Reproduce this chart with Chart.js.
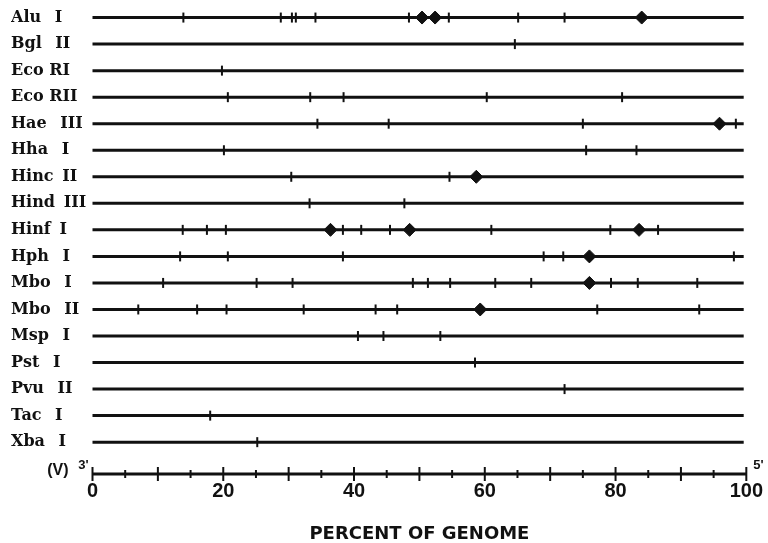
<!DOCTYPE html>
<html>
<head>
<meta charset="utf-8">
<script src="https://cdn.jsdelivr.net/npm/chart.js@4/dist/chart.umd.min.js"></script>
<style>
  html, body { margin: 0; padding: 0; background: #ffffff; }
  #wrap { width: 768px; height: 543px; }
</style>
</head>
<body>
<div id="wrap"><canvas id="c" width="768" height="543"></canvas></div>
<script>
// ---- Data (percent of genome) ----
const enzymes = ['Alu I', 'Bgl II', 'Eco RI', 'Eco RII', 'Hae III', 'Hha I', 'Hinc II', 'Hind III',
                 'Hinf I', 'Hph I', 'Mbo I', 'Mbo II', 'Msp I', 'Pst I', 'Pvu II', 'Tac I', 'Xba I'];

// cleavage sites (small ticks)
const aluI    = [13.9, 28.8, 30.5, 31.1, 34.1, 48.4, 54.5, 65.1, 72.2];
const bglII   = [64.6];
const ecoRI   = [19.8];
const ecoRII  = [20.7, 33.3, 38.4, 60.3, 81.0];
const haeIII  = [34.4, 45.3, 75.0, 98.4];
const hhaI    = [20.1, 75.5, 83.2];
const hincII  = [30.4, 54.6];
const hindIII = [33.2, 47.7];
const hinfI   = [13.8, 17.5, 20.4, 38.3, 41.1, 45.5, 61.0, 79.2, 86.5];
const hphI    = [13.4, 20.7, 38.3, 69.0, 72.0, 98.1];
const mboI    = [10.8, 25.1, 30.6, 49.0, 51.3, 54.7, 61.6, 67.1, 79.3, 83.4, 92.5];
const mboII   = [7.0, 16.0, 20.5, 32.3, 43.3, 46.6, 77.2, 92.8];
const mspI    = [40.6, 44.5, 53.2];
const pstI    = [58.5];
const pvuII   = [72.2];
const tacI    = [18.0];
const xbaI    = [25.2];

// diamond-marked sites
const aluIMajor   = [50.4, 52.4, 84.0];
const haeIIIMajor = [95.9];
const hincIIMajor = [58.7];
const hinfIMajor  = [36.4, 48.5, 83.6];
const hphIMajor   = [76.0];
const mboIMajor   = [76.0];
const mboIIMajor  = [59.3];

// genome line extent and axis ticks
const lineExtent = [0, 99.6];
const axisMajorTicks = [0, 10, 20, 30, 40, 50, 60, 70, 80, 90, 100];
const axisMinorTicks = [5, 15, 25, 35, 45, 55, 65, 75, 85, 95];
const axisLabels = [0, 20, 40, 60, 80, 100];
const axisRow = 17.2;

// ---- build tables ----
const siteTable = [aluI, bglII, ecoRI, ecoRII, haeIII, hhaI, hincII, hindIII, hinfI, hphI, mboI, mboII, mspI, pstI, pvuII, tacI, xbaI];
const majorTable = {0: aluIMajor, 4: haeIIIMajor, 6: hincIIMajor, 8: hinfIMajor, 9: hphIMajor, 10: mboIMajor, 11: mboIIMajor};

const datasets = [];
enzymes.forEach((name, i) => {
  datasets.push({
    type: 'line', label: name,
    data: lineExtent.map(x => ({x: x, y: i})),
    borderColor: '#111', borderWidth: 3, pointRadius: 0, showLine: true, clip: false
  });
});
const tickPts = [];
siteTable.forEach((arr, i) => arr.forEach(x => tickPts.push({x: x, y: i})));
datasets.push({
  type: 'scatter', label: 'sites', data: tickPts,
  pointStyle: 'line', rotation: 90, pointRadius: 5, borderWidth: 2,
  borderColor: '#111', backgroundColor: '#111', clip: false
});
const majorPts = [];
Object.keys(majorTable).forEach(k => majorTable[k].forEach(x => majorPts.push({x: x, y: +k})));
datasets.push({
  type: 'scatter', label: 'major sites', data: majorPts,
  pointStyle: 'rectRot', pointRadius: 6.5, borderWidth: 1,
  borderColor: '#111', backgroundColor: '#111', clip: false
});
// bottom axis (V)
datasets.push({
  type: 'line', label: 'axis',
  data: [{x: 0, y: axisRow}, {x: 100, y: axisRow}],
  borderColor: '#111', borderWidth: 3, pointRadius: 0, showLine: true, clip: false
});
datasets.push({
  type: 'scatter', label: 'axis major', data: axisMajorTicks.map(x => ({x: x, y: axisRow})),
  pointStyle: 'line', rotation: 90, pointRadius: 7, borderWidth: 2, borderColor: '#111', clip: false
});
datasets.push({
  type: 'scatter', label: 'axis minor', data: axisMinorTicks.map(x => ({x: x, y: axisRow})),
  pointStyle: 'line', rotation: 90, pointRadius: 4, borderWidth: 2, borderColor: '#111', clip: false
});

const endLabels = {
  id: 'endLabels',
  afterDatasetsDraw(chart) {
    const ctx = chart.ctx;
    const xs = chart.scales.x, ys = chart.scales.y;
    const x0 = xs.getPixelForValue(0), x1 = xs.getPixelForValue(100);
    const y = ys.getPixelForValue(axisRow);
    ctx.save();
    ctx.fillStyle = '#111';
    ctx.textBaseline = 'middle';
    ctx.font = 'bold 16px "Liberation Sans", Arial, sans-serif';
    ctx.textAlign = 'right';
    ctx.fillText('(V)', x0 - 24, y - 3);
    ctx.font = 'bold 13px "Liberation Sans", Arial, sans-serif';
    ctx.textAlign = 'center';
    ctx.fillText("3'", x0 - 9, y - 9);
    ctx.fillText("5'", x1 + 12, y - 9);
    ctx.restore();
  }
};

new Chart(document.getElementById('c'), {
  data: { datasets: datasets },
  options: {
    responsive: false,
    animation: false,
    events: [],
    layout: { padding: { left: 11, right: 20.7, top: 0, bottom: 0 } },
    plugins: { legend: { display: false }, tooltip: { enabled: false } },
    scales: {
      x: {
        type: 'linear', min: 0, max: 100,
        afterBuildTicks: s => { s.ticks = axisLabels.map(v => ({value: v})); },
        afterFit: s => { s.height = 69; },
        grid: { display: false, drawTicks: false }, border: { display: false },
        ticks: { padding: 5, color: '#111', font: { family: '"Liberation Sans", Arial, sans-serif', size: 20, weight: 'bold' } },
        title: {
          display: true, text: 'PERCENT OF GENOME', color: '#111',
          font: { family: '"DejaVu Sans", sans-serif', size: 18, weight: 'bold', lineHeight: 1 },
          padding: { top: 0, bottom: 0 }
        }
      },
      y: {
        type: 'linear', reverse: true, min: -0.3, max: axisRow,
        afterBuildTicks: s => { s.ticks = enzymes.map((n, i) => ({value: i})); },
        afterFit: s => { s.width = 81.5; },
        grid: { display: false, drawTicks: false }, border: { display: false },
        ticks: {
          crossAlign: 'far', padding: 0, color: '#111',
          font: { family: '"DejaVu Serif", serif', size: 16, weight: 'bold' },
          callback: (v) => {
            const n = enzymes[Math.round(v)] || '';
            if (n.startsWith('Eco')) return n;
            const parts = n.split(' ');
            return parts[0].length > 3 ? parts[0] + '\u2009 ' + parts[1] : parts[0] + '\u2002 ' + parts[1];
          }
        }
      }
    }
  },
  plugins: [endLabels]
});
</script>
</body>
</html>
